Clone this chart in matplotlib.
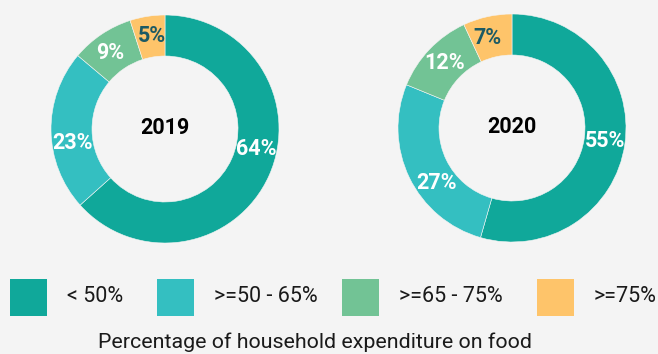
import matplotlib.pyplot as plt
from matplotlib.patches import Rectangle
import numpy as np

plt.rcParams['font.family'] = ['Roboto', 'DejaVu Sans']

CATEGORIES = ["< 50%", ">=50 - 65%", ">=65 - 75%", ">=75%"]
COLORS = ["#10a89a", "#34bfc1", "#72c395", "#fec46a"]
LABEL_COLORS = ["white", "white", "white", "#1c5a64"]

YEARS = ["2019", "2020"]
SHARES_2019 = [64, 23, 9, 5]
SHARES_2020 = [55, 27, 12, 7]

XLABEL = "Percentage of household expenditure on food"

# small angular nudges (deg) for the percentage labels
NUDGE_2019 = [12, 8, 2, -1]
NUDGE_2020 = [0, 10, 0, 3]

W, H = 658, 354
BG = "#f4f4f4"

fig = plt.figure(figsize=(W / 100, H / 100), dpi=100, facecolor=BG)
ax = fig.add_axes([0, 0, 1, 1])
ax.set_facecolor(BG)

R_OUT, R_IN = 114, 73
ring = R_OUT - R_IN
r_mid = (R_OUT + R_IN) / 2

for year, shares, nudge, cx, cy in [(YEARS[0], SHARES_2019, NUDGE_2019, 165, H - 129),
                                    (YEARS[1], SHARES_2020, NUDGE_2020, 512, H - 128)]:
    ax.pie(shares, colors=COLORS, startangle=90, counterclock=False,
           radius=R_OUT, center=(cx, cy),
           wedgeprops=dict(width=ring, edgecolor=BG, linewidth=0.4))
    total = sum(shares)
    cum = 0
    for v, col, dn in zip(shares, LABEL_COLORS, nudge):
        mid = 90 - 360 * (cum + v / 2) / total + dn
        cum += v
        t = np.deg2rad(mid)
        ax.text(cx + r_mid * np.cos(t), cy + r_mid * np.sin(t), f"{v}%",
                ha='center', va='center', color=col, fontsize=15.5,
                fontweight='bold')
    ax.text(cx, cy + 1, year, ha='center', va='center', color='black',
            fontsize=15.5, fontweight='bold')

# legend row
box_x = [10, 157, 342, 537]
for bx, col, cat in zip(box_x, COLORS, CATEGORIES):
    ax.add_patch(Rectangle((bx, H - 316), 37, 37, facecolor=col, edgecolor='none'))
    ax.text(bx + 57, H - 296, cat, ha='left', va='center', fontsize=15.5,
            color='#1a1a1a')

ax.text(315, H - 342, XLABEL, ha='center', va='center', fontsize=15.4,
        color='#1a1a1a')

ax.set_xlim(0, W)
ax.set_ylim(0, H)
ax.set_aspect('equal')
ax.axis('off')

fig.savefig("out.png", dpi=100, facecolor=BG)
